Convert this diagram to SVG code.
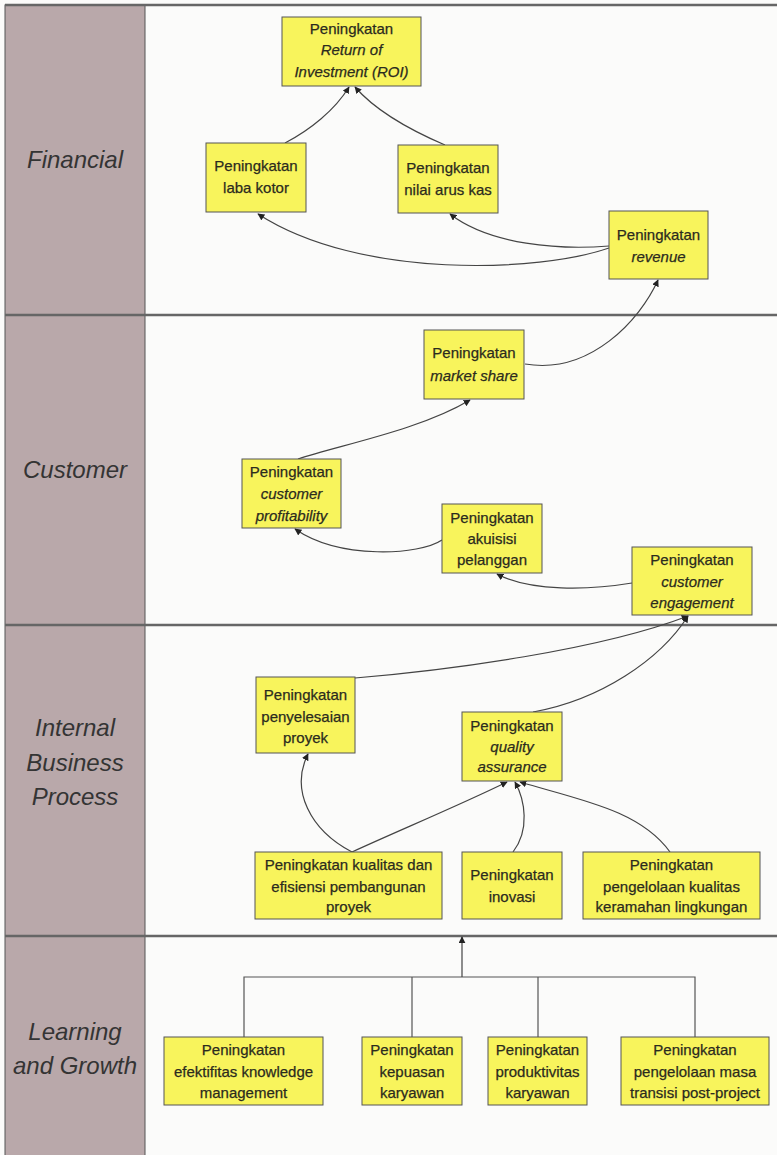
<svg xmlns="http://www.w3.org/2000/svg" width="777" height="1155" viewBox="0 0 777 1155">
  <style>
    .lane { fill: #b9a8aa; stroke: #555; stroke-width: 1; }
    .sep { stroke: #666; stroke-width: 2.5; fill: none; }
    .lanelabel { font-family: "Liberation Sans", Arial, sans-serif; font-style: italic; font-size: 24px; fill: #343434; text-anchor: middle; }
    .box { fill: #f8f45c; stroke: #555; stroke-width: 1; }
    .t { font-family: "Liberation Sans", Arial, sans-serif; font-size: 15px; fill: #2b2b1e; stroke: #2b2b1e; stroke-width: 0.25; text-anchor: middle; }
    .i { font-style: italic; }
    .conn { fill: none; stroke: #444; stroke-width: 1.2; marker-end: url(#arr); }
    .tree { fill: none; stroke: #555; stroke-width: 1.2; }
  </style>
  <defs>
    <marker id="arr" viewBox="0 0 10 10" refX="9" refY="5" markerWidth="7" markerHeight="7" markerUnits="userSpaceOnUse" orient="auto">
      <path d="M0,0 L10,5 L0,10 z" fill="#222"/>
    </marker>
  </defs>

  <!-- page and lane frame -->
  <rect x="0" y="0" width="777" height="1155" fill="#fbfbfa"/>
  <rect x="5" y="5" width="140" height="1155" class="lane"/>
  <line x1="5" y1="5" x2="777" y2="5" class="sep" stroke-width="1.5"/>
  <line x1="5" y1="315" x2="777" y2="315" class="sep"/>
  <line x1="5" y1="625" x2="777" y2="625" class="sep"/>
  <line x1="5" y1="936" x2="777" y2="936" class="sep"/>

  <g id="lane-labels">
    <text class="lanelabel" x="75" y="168">Financial</text>
    <text class="lanelabel" x="75" y="478">Customer</text>
    <text class="lanelabel" x="75" y="736">Internal</text>
    <text class="lanelabel" x="75" y="771">Business</text>
    <text class="lanelabel" x="75" y="805">Process</text>
    <text class="lanelabel" x="75" y="1040">Learning</text>
    <text class="lanelabel" x="75" y="1074">and Growth</text>
  </g>

  <g id="connectors">
    <path class="conn" d="M285,143 C310,130 335,110 349,87"/>
    <path class="conn" d="M445,145 C410,130 375,110 355,87"/>
    <path class="conn" d="M609,248 C540,272 360,280 258,214"/>
    <path class="conn" d="M609,246 C560,250 490,245 450,214"/>
    <path class="conn" d="M525,364 C590,375 640,320 658,280"/>
    <path class="conn" d="M298,459 C340,445 420,430 470,400"/>
    <path class="conn" d="M442,540 C420,555 340,560 295,529"/>
    <path class="conn" d="M632,583 C590,590 530,592 497,574"/>
    <path class="conn" d="M355,678 C450,670 600,650 688,616"/>
    <path class="conn" d="M533,712 C600,700 660,660 688,616"/>
    <path class="conn" d="M352,852 C310,830 290,790 308,754"/>
    <path class="conn" d="M352,852 C400,830 460,805 507,782"/>
    <path class="conn" d="M513,852 C530,830 525,800 515,782"/>
    <path class="conn" d="M670,852 C640,810 580,800 520,782"/>
    <!-- learning & growth tree -->
    <path class="tree" d="M244,1037 V977 H695 V1037 M412,977 V1037 M538,977 V1037"/>
    <path class="conn" d="M462,977 V937"/>
  </g>

  <g id="n-roi">
    <rect class="box" x="282" y="17" width="139" height="69"/>
    <text class="t" x="351.5" y="34">Peningkatan</text>
    <text class="t i" x="351.5" y="55">Return of</text>
    <text class="t i" x="351.5" y="77">Investment (ROI)</text>
  </g>
  <g id="n-laba">
    <rect class="box" x="206" y="143" width="100" height="69"/>
    <text class="t" x="256" y="171">Peningkatan</text>
    <text class="t" x="256" y="193">laba kotor</text>
  </g>
  <g id="n-aruskas">
    <rect class="box" x="398" y="145" width="100" height="68"/>
    <text class="t" x="448" y="173">Peningkatan</text>
    <text class="t" x="448" y="195">nilai arus kas</text>
  </g>
  <g id="n-revenue">
    <rect class="box" x="609" y="211" width="99" height="68"/>
    <text class="t" x="658.5" y="240">Peningkatan</text>
    <text class="t i" x="658.5" y="262">revenue</text>
  </g>
  <g id="n-marketshare">
    <rect class="box" x="424" y="330" width="100" height="69"/>
    <text class="t" x="474" y="358">Peningkatan</text>
    <text class="t i" x="474" y="381">market share</text>
  </g>
  <g id="n-profitability">
    <rect class="box" x="242" y="459" width="99" height="69"/>
    <text class="t" x="291.5" y="477">Peningkatan</text>
    <text class="t i" x="291.5" y="499">customer</text>
    <text class="t i" x="291.5" y="521">profitability</text>
  </g>
  <g id="n-akuisisi">
    <rect class="box" x="442" y="504" width="100" height="69"/>
    <text class="t" x="492" y="523">Peningkatan</text>
    <text class="t" x="492" y="544">akuisisi</text>
    <text class="t" x="492" y="565">pelanggan</text>
  </g>
  <g id="n-engagement">
    <rect class="box" x="632" y="547" width="120" height="68"/>
    <text class="t" x="692" y="565">Peningkatan</text>
    <text class="t i" x="692" y="587">customer</text>
    <text class="t i" x="692" y="608">engagement</text>
  </g>
  <g id="n-penyelesaian">
    <rect class="box" x="256" y="677" width="99" height="76"/>
    <text class="t" x="305.5" y="700">Peningkatan</text>
    <text class="t" x="305.5" y="722">penyelesaian</text>
    <text class="t" x="305.5" y="743">proyek</text>
  </g>
  <g id="n-qa">
    <rect class="box" x="462" y="712" width="100" height="69"/>
    <text class="t" x="512" y="731">Peningkatan</text>
    <text class="t i" x="512" y="752">quality</text>
    <text class="t i" x="512" y="772">assurance</text>
  </g>
  <g id="n-kualitas">
    <rect class="box" x="255" y="852" width="187" height="67"/>
    <text class="t" x="348.5" y="870">Peningkatan kualitas dan</text>
    <text class="t" x="348.5" y="892">efisiensi pembangunan</text>
    <text class="t" x="348.5" y="912">proyek</text>
  </g>
  <g id="n-inovasi">
    <rect class="box" x="462" y="852" width="100" height="67"/>
    <text class="t" x="512" y="880">Peningkatan</text>
    <text class="t" x="512" y="902">inovasi</text>
  </g>
  <g id="n-lingkungan">
    <rect class="box" x="583" y="852" width="177" height="67"/>
    <text class="t" x="671.5" y="870">Peningkatan</text>
    <text class="t" x="671.5" y="892">pengelolaan kualitas</text>
    <text class="t" x="671.5" y="912">keramahan lingkungan</text>
  </g>
  <g id="n-knowledge">
    <rect class="box" x="164" y="1037" width="159" height="68"/>
    <text class="t" x="243.5" y="1055">Peningkatan</text>
    <text class="t" x="243.5" y="1077">efektifitas knowledge</text>
    <text class="t" x="243.5" y="1098">management</text>
  </g>
  <g id="n-kepuasan">
    <rect class="box" x="362" y="1037" width="100" height="68"/>
    <text class="t" x="412" y="1055">Peningkatan</text>
    <text class="t" x="412" y="1077">kepuasan</text>
    <text class="t" x="412" y="1098">karyawan</text>
  </g>
  <g id="n-produktivitas">
    <rect class="box" x="488" y="1037" width="99" height="68"/>
    <text class="t" x="537.5" y="1055">Peningkatan</text>
    <text class="t" x="537.5" y="1077">produktivitas</text>
    <text class="t" x="537.5" y="1098">karyawan</text>
  </g>
  <g id="n-transisi">
    <rect class="box" x="621" y="1037" width="148" height="68"/>
    <text class="t" x="695" y="1055">Peningkatan</text>
    <text class="t" x="695" y="1077">pengelolaan masa</text>
    <text class="t" x="695" y="1098">transisi post-project</text>
  </g>
</svg>
